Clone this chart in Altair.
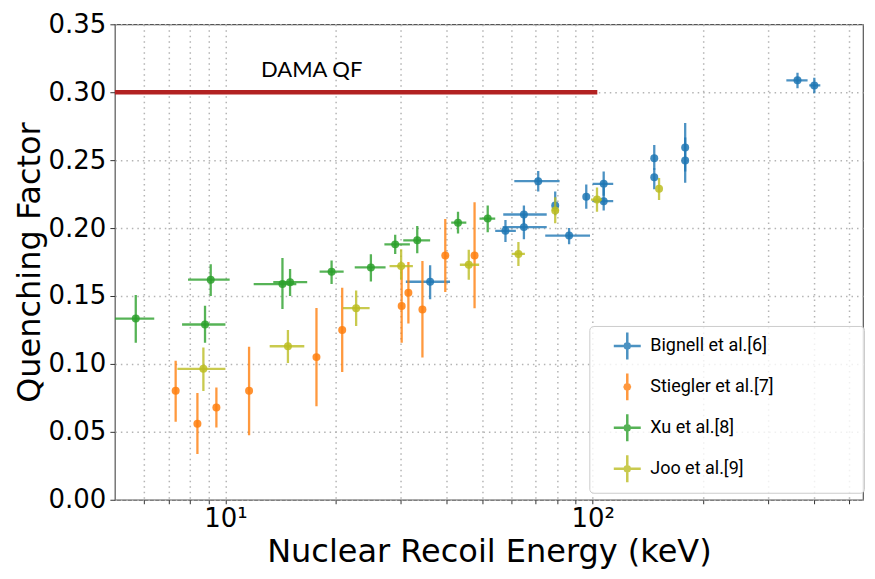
import altair as alt
import pandas as pd

# ---------------- data ----------------
series_names = ["Bignell et al.[6]", "Stiegler et al.[7]", "Xu et al.[8]", "Joo et al.[9]"]
series_colors = ["#1f77b4", "#ff7f0e", "#2ca02c", "#bcbd22"]

bignell_x = [36.1, 57.9, 65.0, 65.0, 71.1, 79.1, 86.3, 96.1, 107.2, 107.2, 147.2, 147.2, 178.7, 178.7, 361.4, 401.6]
bignell_y = [0.1605, 0.198, 0.2007, 0.210, 0.2345, 0.2166, 0.1945, 0.223, 0.2326, 0.2198, 0.2514, 0.2374, 0.2593, 0.2498, 0.3088, 0.305]
bignell_ylo = [0.1476, 0.1898, 0.1917, 0.203, 0.2269, 0.2095, 0.188, 0.2143, 0.2238, 0.213, 0.2429, 0.2286, 0.2417, 0.2333, 0.3029, 0.2993]
bignell_yhi = [0.1726, 0.206, 0.210, 0.2167, 0.2421, 0.227, 0.200, 0.2321, 0.2417, 0.2298, 0.2612, 0.244, 0.2774, 0.2667, 0.3143, 0.3107]
bignell_xlo = [31.0, 54.3, 56.9, 57.1, 61.2, 79.1, 74.3, 96.1, 100.0, 100.0, 147.2, 147.2, 178.7, 178.7, 337.0, 389.0]
bignell_xhi = [40.9, 61.8, 75.0, 75.0, 81.3, 79.1, 98.4, 96.1, 113.8, 113.8, 147.2, 147.2, 178.7, 178.7, 385.0, 417.0]

stiegler_x = [7.32, 8.39, 9.45, 11.6, 17.7, 20.8, 30.2, 31.5, 34.4, 39.7, 47.7]
stiegler_y = [0.0802, 0.0559, 0.0679, 0.0802, 0.105, 0.125, 0.1426, 0.1524, 0.140, 0.1798, 0.1798]
stiegler_ylo = [0.0574, 0.0336, 0.0531, 0.0474, 0.0688, 0.094, 0.1155, 0.1298, 0.1048, 0.153, 0.141]
stiegler_yhi = [0.1024, 0.0786, 0.0826, 0.1126, 0.1412, 0.156, 0.170, 0.175, 0.1757, 0.2066, 0.219]

xu_x = [5.70, 8.80, 9.12, 14.3, 15.0, 19.46, 24.9, 29.0, 33.3, 43.0, 51.8]
xu_y = [0.1334, 0.129, 0.162, 0.1588, 0.1602, 0.1679, 0.171, 0.188, 0.191, 0.204, 0.207]
xu_ylo = [0.1155, 0.1155, 0.150, 0.1405, 0.150, 0.1588, 0.1607, 0.181, 0.1814, 0.196, 0.197]
xu_yhi = [0.1507, 0.1429, 0.1734, 0.1779, 0.1698, 0.1762, 0.1807, 0.195, 0.2016, 0.212, 0.2166]
xu_xlo = [5.0, 7.62, 7.91, 11.94, 13.5, 18.05, 22.5, 27.1, 30.5, 41.2, 49.2]
xu_xhi = [6.40, 10.0, 10.27, 15.6, 16.7, 20.99, 27.3, 31.8, 36.1, 45.3, 54.3]

joo_x = [8.71, 14.8, 22.7, 30.1, 46.0, 62.8, 79.1, 102.8, 151.7]
joo_y = [0.0964, 0.113, 0.141, 0.172, 0.173, 0.181, 0.213, 0.221, 0.229]
joo_ylo = [0.080, 0.1007, 0.128, 0.162, 0.162, 0.172, 0.2036, 0.212, 0.2207]
joo_yhi = [0.112, 0.125, 0.154, 0.1845, 0.184, 0.1898, 0.2226, 0.2298, 0.2369]
joo_xlo = [7.40, 13.2, 20.9, 27.99, 43.5, 60.2, 77.5, 99.0, 151.7]
joo_xhi = [10.0, 16.4, 24.7, 32.4, 49.1, 65.4, 81.0, 106.0, 151.7]

dama_x = [5.0]
dama_x2 = [103.0]
dama_qf = [0.30]
dama_label = ["DAMA QF"]
dama_label_x = [12.5]
dama_label_y = [0.316]

x_ticks = [6, 7, 8, 9, 10, 20, 30, 40, 50, 60, 70, 80, 90, 100, 200, 300, 400, 500]
y_ticks = [0.0, 0.05, 0.10, 0.15, 0.20, 0.25, 0.30, 0.35]

# legend glyphs (error-bar cross with a dot; Stiegler has vertical bars only)
dot = "M0.2,0L0.141,0.141L0,0.2L-0.141,0.141L-0.2,0L-0.141,-0.141L0,-0.2L0.141,-0.141Z"
path_cross = "M-1,0L1,0M0,-1L0,1" + dot
path_vert = "M0,-1L0,1" + dot

# ---------------- frames ----------------
def frame(name, x, y, ylo, yhi, xlo, xhi):
    return pd.DataFrame({"series": name, "x": x, "y": y, "ylo": ylo, "yhi": yhi,
                         "xlo": xlo, "xhi": xhi})

frames = [
    frame(series_names[0], bignell_x, bignell_y, bignell_ylo, bignell_yhi, bignell_xlo, bignell_xhi),
    frame(series_names[1], stiegler_x, stiegler_y, stiegler_ylo, stiegler_yhi, stiegler_x, stiegler_x),
    frame(series_names[2], xu_x, xu_y, xu_ylo, xu_yhi, xu_xlo, xu_xhi),
    frame(series_names[3], joo_x, joo_y, joo_ylo, joo_yhi, joo_xlo, joo_xhi),
]

FONT = "DejaVu Sans"
x_scale = alt.Scale(type="log", domain=[5, 545], nice=False)
y_scale = alt.Scale(domain=[0, 0.35], nice=False, zero=False)
x_title = "Nuclear Recoil Energy (keV)"
y_title = "Quenching Factor"

x_axis = alt.Axis(values=x_ticks,
                  labelExpr="datum.value == 10 ? '10\u00b9' : (datum.value == 100 ? '10\u00b2' : '')",
                  grid=True, gridDash=[1.5, 4], gridColor="#b4b4b4", gridWidth=1.5,
                  domain=False, ticks=True, tickColor="#333333", tickSize=4,
                  labelFont=FONT, labelFontSize=26, labelColor="black", labelPadding=2,
                  labelOverlap=False, labelFlush=False,
                  titleFont=FONT, titleFontSize=32, titleFontWeight="normal",
                  titleColor="black", titlePadding=5)
y_axis = alt.Axis(values=y_ticks, format=".2f",
                  grid=True, gridDash=[1.5, 4], gridColor="#b4b4b4", gridWidth=1.5,
                  domain=False, ticks=True, tickColor="#333333", tickSize=5,
                  labelFont=FONT, labelFontSize=26, labelColor="black", labelPadding=4,
                  labelOverlap=False, labelFlush=False,
                  titleFont=FONT, titleFontSize=32, titleFontWeight="normal",
                  titleColor="black", titlePadding=2)

def X(field):
    return alt.X(field, type="quantitative", scale=x_scale, axis=x_axis, title=x_title)

def Y(field):
    return alt.Y(field, type="quantitative", scale=y_scale, axis=y_axis, title=y_title)

color_scale = alt.Scale(domain=series_names, range=series_colors)

# an invisible (non-breaking space) title on the right widens the legend box
leg = alt.Legend(title="\u00a0", titleOrient="right", titlePadding=85, titleFontSize=10,
                 orient="none", legendX=475, legendY=302, direction="vertical",
                 symbolType=path_cross, symbolSize=729, symbolStrokeWidth=2.5, symbolOpacity=0.8,
                 symbolOffset=18,
                 labelFont="Roboto", labelFontSize=18, labelColor="black", labelOffset=8,
                 rowPadding=3, padding=5, fillColor="rgba(255,255,255,0.8)",
                 strokeColor="#cccccc", cornerRadius=4, labelLimit=500)

def C():
    return alt.Color("series:N", scale=color_scale, legend=leg)

# per-entry legend glyph styling, applied to the compiled Vega legend
shape_signal = ("datum.value === '" + series_names[1] + "' ? '" + path_vert + "' : '" + path_cross + "'")
legend_patch = [{
    "op": "add",
    "path": "/legends/0/encode",
    "value": {
        "symbols": {"update": {
            "shape": {"signal": shape_signal},
            "fill": {"signal": "scale('color', datum.value)"},
            "stroke": {"signal": "scale('color', datum.value)"},
            "strokeWidth": {"value": 2.5},
            "opacity": {"value": 0.8},
        }},
    },
}]

layers = []

dama_df = pd.DataFrame({"x": dama_x, "x2": dama_x2, "y": dama_qf})
layers.append(alt.Chart(dama_df).mark_rule(color="#b22222", strokeWidth=4.5).encode(
    x=X("x"), x2="x2:Q", y=Y("y")))

lab_df = pd.DataFrame({"x": dama_label_x, "y": dama_label_y, "t": dama_label})
layers.append(alt.Chart(lab_df).mark_text(align="left", baseline="middle", font="Lato",
                                          fontSize=22, color="black").encode(
    x=X("x"), y=Y("y"), text="t:N"))

for i, df in enumerate(frames):
    base = alt.Chart(df)
    layers.append(base.mark_rule(strokeWidth=2.3, opacity=0.8, clip=True).encode(
        x=X("x"), y=Y("ylo"), y2="yhi:Q", color=C()))
    layers.append(base.mark_rule(strokeWidth=2.3, opacity=0.8, clip=True).encode(
        x=X("xlo"), x2="xhi:Q", y=Y("y"), color=C()))
    layers.append(base.mark_circle(size=64, opacity=0.85).encode(
        x=X("x"), y=Y("y"), color=C()))

chart = alt.layer(*layers).properties(
    width=749, height=476,
    padding={"left": 5, "top": 3, "right": 2, "bottom": 3},
    background="white",
).configure_view(stroke="#555555", strokeWidth=1.2)

chart.save("out.html", embed_options={"renderer": "svg", "actions": False, "patch": legend_patch})
